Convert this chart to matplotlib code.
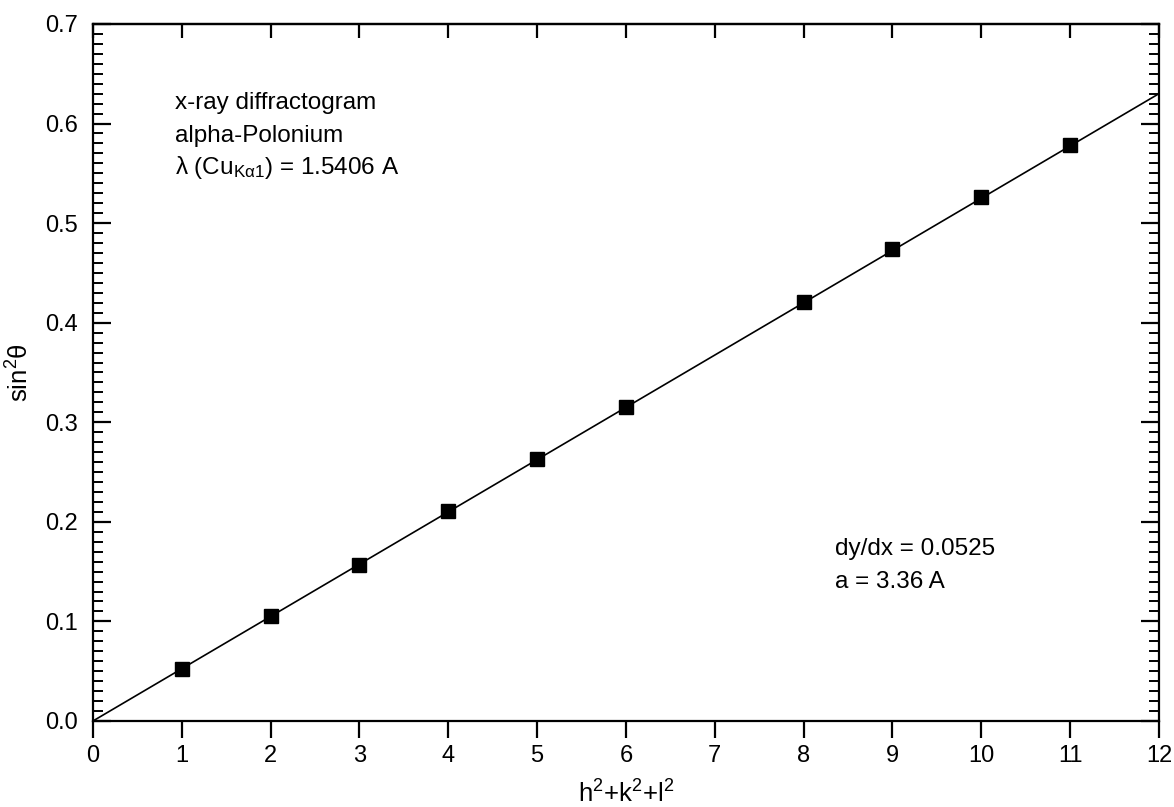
import numpy as np
import matplotlib.pyplot as plt
from matplotlib.ticker import MultipleLocator, FormatStrFormatter

plt.rcParams['font.family'] = ['Liberation Sans', 'DejaVu Sans']
plt.rcParams['mathtext.default'] = 'regular'

# measured reflections: h^2+k^2+l^2 vs sin^2(theta)
hkl_sum = [1, 2, 3, 4, 5, 6, 8, 9, 10, 11]
sin2_theta = [0.052, 0.105, 0.157, 0.211, 0.263, 0.315, 0.421, 0.474, 0.526, 0.578]

slope = 0.0525
fit_x = np.array([0, 12])
fit_y = slope * fit_x

fig = plt.figure(figsize=(11.74, 8.07), dpi=100)
ax = fig.add_axes([0.0792, 0.1066, 0.908, 0.8637])

ax.plot(fit_x, fit_y, color='black', lw=1.2, zorder=2)
ax.plot(hkl_sum, sin2_theta, 's', color='black', ms=10, zorder=3)

ax.set_xlim(0, 12)
ax.set_ylim(0, 0.7)
ax.xaxis.set_major_locator(MultipleLocator(1))
ax.yaxis.set_major_locator(MultipleLocator(0.1))
ax.yaxis.set_minor_locator(MultipleLocator(0.01))
ax.yaxis.set_major_formatter(FormatStrFormatter('%.1f'))

for s in ax.spines.values():
    s.set_linewidth(1.6)

ax.tick_params(axis='x', which='major', direction='out', length=12, width=1.6,
               labelsize=17, pad=5, top=False)
ax.tick_params(axis='y', which='major', direction='in', length=13, width=1.6,
               labelsize=17, pad=11, right=True)
ax.tick_params(axis='y', which='minor', direction='in', length=7, width=1.4, right=True)

# top spine ticks point inward
top = ax.secondary_xaxis('top')
top.xaxis.set_major_locator(MultipleLocator(1))
top.tick_params(direction='in', length=10, width=1.6, labeltop=False)
top.spines['top'].set_linewidth(1.6)

ax.set_xlabel('h$^2$+k$^2$+l$^2$', fontsize=18.5, labelpad=10)
ax.set_ylabel(r'sin$^2\theta$', fontsize=18.5, labelpad=8)

ax.text(0.92, 0.621, 'x-ray diffractogram', fontsize=17.5, va='center')
ax.text(0.92, 0.5875, 'alpha-Polonium', fontsize=17.5, va='center')
ax.text(0.92, 0.5554, 'λ (Cu$_{Kα1}$) = 1.5406 A', fontsize=17.5, va='center')
ax.text(8.35, 0.1727, 'dy/dx = 0.0525', fontsize=17.5, va='center')
ax.text(8.35, 0.1396, 'a = 3.36 A', fontsize=17.5, va='center')

fig.savefig('out.png', dpi=100)
